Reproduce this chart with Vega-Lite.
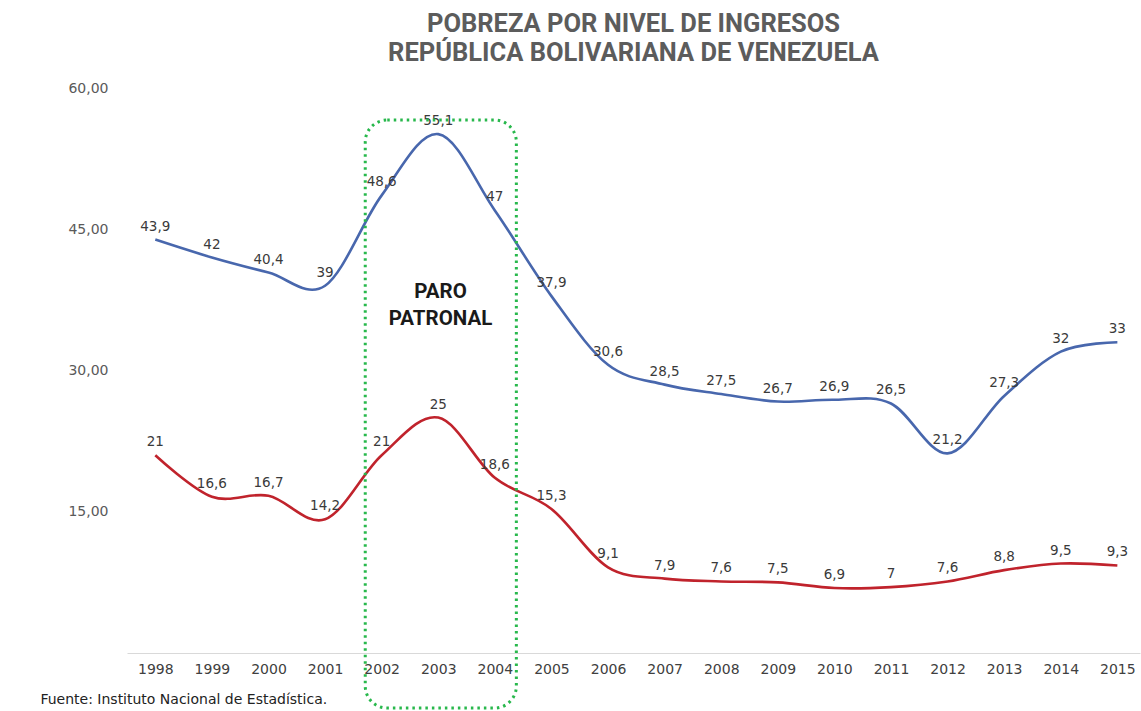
{
  "$schema": "https://vega.github.io/schema/vega-lite/v6.json",
  "width": 1013,
  "height": 565,
  "autosize": {"type": "none"},
  "padding": {"left": 127, "top": 88, "right": 1, "bottom": 58},
  "background": "white",
  "config": {
    "locale": {"number": {"decimal": ",", "thousands": ".", "grouping": [3], "currency": ["", ""]}},
    "view": {"stroke": null},
    "font": "DejaVu Sans"
  },
  "title": {
    "text": ["POBREZA POR NIVEL DE INGRESOS", "REPÚBLICA BOLIVARIANA DE VENEZUELA"],
    "font": "Roboto",
    "fontSize": 25.5,
    "fontWeight": "bold",
    "color": "#5c5c5c",
    "lineHeight": 29,
    "anchor": "middle",
    "offset": 15
  },
  "datasets": {
    "pobreza": [
      {"anio": 1998, "serie": "Pobreza", "valor": 43.9},
      {"anio": 1999, "serie": "Pobreza", "valor": 42},
      {"anio": 2000, "serie": "Pobreza", "valor": 40.4},
      {"anio": 2001, "serie": "Pobreza", "valor": 39},
      {"anio": 2002, "serie": "Pobreza", "valor": 48.6},
      {"anio": 2003, "serie": "Pobreza", "valor": 55.1},
      {"anio": 2004, "serie": "Pobreza", "valor": 47},
      {"anio": 2005, "serie": "Pobreza", "valor": 37.9},
      {"anio": 2006, "serie": "Pobreza", "valor": 30.6},
      {"anio": 2007, "serie": "Pobreza", "valor": 28.5},
      {"anio": 2008, "serie": "Pobreza", "valor": 27.5},
      {"anio": 2009, "serie": "Pobreza", "valor": 26.7},
      {"anio": 2010, "serie": "Pobreza", "valor": 26.9},
      {"anio": 2011, "serie": "Pobreza", "valor": 26.5},
      {"anio": 2012, "serie": "Pobreza", "valor": 21.2},
      {"anio": 2013, "serie": "Pobreza", "valor": 27.3},
      {"anio": 2014, "serie": "Pobreza", "valor": 32},
      {"anio": 2015, "serie": "Pobreza", "valor": 33},
      {"anio": 1998, "serie": "Pobreza extrema", "valor": 21},
      {"anio": 1999, "serie": "Pobreza extrema", "valor": 16.6},
      {"anio": 2000, "serie": "Pobreza extrema", "valor": 16.7},
      {"anio": 2001, "serie": "Pobreza extrema", "valor": 14.2},
      {"anio": 2002, "serie": "Pobreza extrema", "valor": 21},
      {"anio": 2003, "serie": "Pobreza extrema", "valor": 25},
      {"anio": 2004, "serie": "Pobreza extrema", "valor": 18.6},
      {"anio": 2005, "serie": "Pobreza extrema", "valor": 15.3},
      {"anio": 2006, "serie": "Pobreza extrema", "valor": 9.1},
      {"anio": 2007, "serie": "Pobreza extrema", "valor": 7.9},
      {"anio": 2008, "serie": "Pobreza extrema", "valor": 7.6},
      {"anio": 2009, "serie": "Pobreza extrema", "valor": 7.5},
      {"anio": 2010, "serie": "Pobreza extrema", "valor": 6.9},
      {"anio": 2011, "serie": "Pobreza extrema", "valor": 7},
      {"anio": 2012, "serie": "Pobreza extrema", "valor": 7.6},
      {"anio": 2013, "serie": "Pobreza extrema", "valor": 8.8},
      {"anio": 2014, "serie": "Pobreza extrema", "valor": 9.5},
      {"anio": 2015, "serie": "Pobreza extrema", "valor": 9.3}
    ],
    "paro": [
      {"x1": 2001.71, "x2": 2004.38, "y1": 56.6, "y2": -5.85}
    ],
    "paroTexto": [
      {"x": 2003.04, "y": 38.35, "texto": "PARO\nPATRONAL"}
    ],
    "fuente": [
      {"x": 1995.97, "y": -5.0, "texto": "Fuente: Instituto Nacional de Estadística."}
    ]
  },
  "layer": [
    {
      "data": {"name": "pobreza"},
      "mark": {"type": "line", "interpolate": "cardinal", "strokeWidth": 2.6},
      "encoding": {
        "x": {
          "field": "anio", "type": "quantitative",
          "scale": {"domain": [1997.5, 2015.4], "nice": false, "zero": false},
          "axis": {
            "values": [1998,1999,2000,2001,2002,2003,2004,2005,2006,2007,2008,2009,2010,2011,2012,2013,2014,2015],
            "format": "d", "title": null, "ticks": false, "grid": false,
            "domainColor": "#d9d9d9", "domainWidth": 1,
            "labelFontSize": 14, "labelColor": "#404040", "labelPadding": 9,
            "labelFont": "DejaVu Sans"
          }
        },
        "y": {
          "field": "valor", "type": "quantitative",
          "scale": {"domain": [0, 60], "nice": false},
          "axis": {
            "values": [15, 30, 45, 60], "format": ".2f", "title": null,
            "ticks": false, "domain": false, "grid": false,
            "labelFontSize": 14, "labelColor": "#5a5a5a", "labelPadding": 19,
            "labelFont": "DejaVu Sans"
          }
        },
        "color": {
          "field": "serie", "type": "nominal",
          "scale": {"domain": ["Pobreza", "Pobreza extrema"], "range": ["#4867ad", "#c0232c"]},
          "legend": null
        }
      }
    },
    {
      "data": {"name": "pobreza"},
      "mark": {"type": "text", "dy": -13, "fontSize": 13.5, "color": "#3a3a3a", "font": "DejaVu Sans"},
      "encoding": {
        "x": {"field": "anio", "type": "quantitative"},
        "y": {"field": "valor", "type": "quantitative"},
        "text": {"field": "valor", "type": "quantitative", "format": ".3~g"}
      }
    },
    {
      "data": {"name": "paro"},
      "mark": {"type": "rect", "fill": null, "stroke": "#28b84c", "strokeWidth": 3, "strokeDash": [2.5, 4], "cornerRadius": 22, "clip": false},
      "encoding": {
        "x": {"field": "x1", "type": "quantitative"},
        "x2": {"field": "x2"},
        "y": {"field": "y1", "type": "quantitative"},
        "y2": {"field": "y2"}
      }
    },
    {
      "data": {"name": "paroTexto"},
      "mark": {"type": "text", "font": "Roboto", "fontWeight": "bold", "fontSize": 20.5, "lineHeight": 27.5, "color": "#1a1a1a", "align": "center", "baseline": "middle", "lineBreak": "\n"},
      "encoding": {
        "x": {"field": "x", "type": "quantitative"},
        "y": {"field": "y", "type": "quantitative"},
        "text": {"field": "texto"}
      }
    },
    {
      "data": {"name": "fuente"},
      "mark": {"type": "text", "font": "DejaVu Sans", "fontSize": 14, "color": "#222222", "align": "left", "baseline": "middle"},
      "encoding": {
        "x": {"field": "x", "type": "quantitative"},
        "y": {"field": "y", "type": "quantitative"},
        "text": {"field": "texto"}
      }
    }
  ]
}
